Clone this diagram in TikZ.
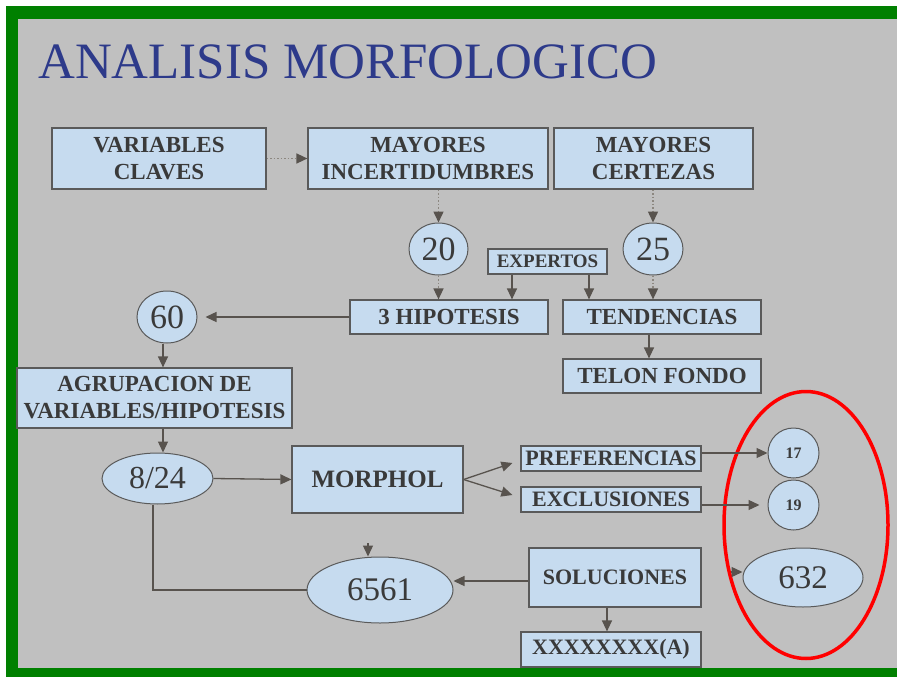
\documentclass[tikz,border=0pt]{standalone}
\usepackage{fontspec}
\setmainfont{Liberation Serif}
\usepackage{xcolor}
\usetikzlibrary{arrows.meta, positioning, shapes.geometric}

\definecolor{slidegray}{HTML}{C0C0C0}
\definecolor{boxblue}{HTML}{C6DBEF}
\definecolor{boxline}{HTML}{5A5A5A}
\definecolor{inkgray}{HTML}{3A3A3A}
\definecolor{arrowgray}{HTML}{58534E}
\definecolor{dotgray}{HTML}{8C8780}
\definecolor{titleblue}{HTML}{2D3A8A}
\definecolor{framegreen}{HTML}{008000}

\begin{document}
\begin{tikzpicture}[x=1pt, y=-1pt,
    box/.style={rectangle, draw=boxline, line width=1.2pt, fill=boxblue, text=inkgray, align=center, inner sep=0pt, font=\bfseries\fontsize{23}{27}\selectfont},
    smallbox/.style={box, font=\bfseries\fontsize{19}{20}\selectfont},
    numnode/.style={ellipse, draw=boxline, line width=1pt, fill=boxblue, text=inkgray, inner sep=0pt, font=\fontsize{34}{34}\selectfont},
    smallnum/.style={numnode, font=\bfseries\fontsize{16}{16}\selectfont},
    arr/.style={draw=arrowgray, line width=1.3pt, -{Triangle[length=11pt, width=10pt]}},
    dotarr/.style={draw=dotgray, line width=1.5pt, dotted, -{Triangle[length=11pt, width=10pt, color=arrowgray]}},
    link/.style={draw=arrowgray, line width=1.3pt}]
    \useasboundingbox (0,0) rectangle (897,677);

    % Slide
    \fill[white] (0,0) rectangle (897,677);
    \fill[framegreen] (6,6) rectangle (897,677);
    \fill[slidegray] (18,19) rectangle (897,668);
    \node[anchor=base west, text=titleblue, inner sep=0pt, font=\fontsize{51}{51}\selectfont] (title) at (38,78) {ANALISIS MORFOLOGICO};

    % Nodes
    \node[box, minimum width=214, minimum height=61] (vars) at (159,158.5) {VARIABLES\\CLAVES};
    \node[box, minimum width=240, minimum height=61] (minc) at (428,158.5) {MAYORES\\INCERTIDUMBRES};
    \node[box, minimum width=199, minimum height=61] (mcert) at (653.5,158.5) {MAYORES\\CERTEZAS};
    \node[numnode, minimum width=59, minimum height=52] (n20) at (438.5,249) {20};
    \node[numnode, minimum width=60, minimum height=52] (n25) at (653,249) {25};
    \node[smallbox, minimum width=119, minimum height=25] (expertos) at (547.5,261.5) {EXPERTOS};
    \node[box, minimum width=198, minimum height=34] (hip) at (449,317) {3 HIPOTESIS};
    \node[box, minimum width=198, minimum height=34] (tend) at (662,317) {TENDENCIAS};
    \node[box, minimum width=198, minimum height=34] (telon) at (662,376) {TELON FONDO};
    \node[numnode, minimum width=60, minimum height=52] (n60) at (167,317) {60};
    \node[box, minimum width=275, minimum height=60] (agrup) at (154.5,398) {AGRUPACION DE\\VARIABLES/HIPOTESIS};
    \node[numnode, minimum width=111, minimum height=51, font=\fontsize{32}{32}\selectfont] (n824) at (157.5,478.5) {8/24};
    \node[box, minimum width=171, minimum height=67, font=\bfseries\fontsize{25}{25}\selectfont] (morphol) at (377.5,479.5) {MORPHOL};
    \node[box, minimum width=180, minimum height=25, font=\bfseries\fontsize{22}{22}\selectfont] (pref) at (611,458.5) {PREFERENCIAS};
    \node[box, minimum width=180, minimum height=25, font=\bfseries\fontsize{22}{22}\selectfont] (excl) at (611,499.5) {EXCLUSIONES};
    \node[smallnum, minimum width=51, minimum height=50] (n17) at (793.5,453) {17};
    \node[smallnum, minimum width=51, minimum height=50] (n19) at (793.5,505) {19};
    \node[box, minimum width=172, minimum height=59, font=\bfseries\fontsize{22}{22}\selectfont] (sol) at (615,577.5) {SOLUCIONES};
    \node[numnode, minimum width=146, minimum height=66, font=\fontsize{33}{33}\selectfont] (n6561) at (380,590) {6561};
    \node[numnode, minimum width=120, minimum height=59, font=\fontsize{33}{33}\selectfont] (n632) at (803,577.5) {632};
    \node[box, minimum width=180, minimum height=35, font=\bfseries\fontsize{22}{22}\selectfont] (xxx) at (611,649.5) {XXXXXXXX(A)};
    \node[ellipse, draw=red, line width=3.5pt, minimum width=164, minimum height=267] (ring) at (806,525) {};
    \coordinate (to632) at (731,572);
    \coordinate (to6561) at (368,543);

    % Edges
    \draw[dotarr] (vars.east) -- (minc.west);
    \draw[dotarr] (minc.south -| n20) -- (n20.north);
    \draw[dotarr] (mcert.south -| n25) -- (n25.north);
    \draw[dotarr] (n20.south) -- (hip.north -| n20);
    \draw[dotarr] (n25.south) -- (tend.north -| n25);
    \draw[arr] (expertos.south -| 512,0) -- (hip.north -| 512,0);
    \draw[arr] (expertos.south -| 589,0) -- (tend.north -| 589,0);
    \draw[arr] (tend.south -| 649,0) -- (telon.north -| 649,0);
    \draw[arr, shorten >=8pt] (hip.west) -- (n60.east);
    \draw[arr] (n60.south -| 163,0) -- (agrup.north -| 163,0);
    \draw[arr] (agrup.south -| 163,0) -- (n824.north -| 163,0);
    \draw[arr] (n824.east) -- (morphol.west);
    \draw[arr] (morphol.east) -- ([xshift=-8pt, yshift=-4.5pt]pref.west);
    \draw[arr] (morphol.east) -- ([xshift=-8pt, yshift=4.5pt]excl.west);
    \draw[arr] (pref.east |- n17) -- (n17.west);
    \draw[arr, shorten >=8pt] (excl.east |- n19) -- (n19.west);
    \draw[arr] (sol.west |- 0,581) -- (n6561.east |- 0,581);
    \draw[arr] (sol.south -| 607,0) -- (xxx.north -| 607,0);
    \draw[link] (n824.south -| 153,0) |- (n6561.west);
    \draw[arr] (to632) -- (n632.west |- to632);
    \draw[arr] (to6561) -- (to6561 |- n6561.north);
\end{tikzpicture}
\end{document}
